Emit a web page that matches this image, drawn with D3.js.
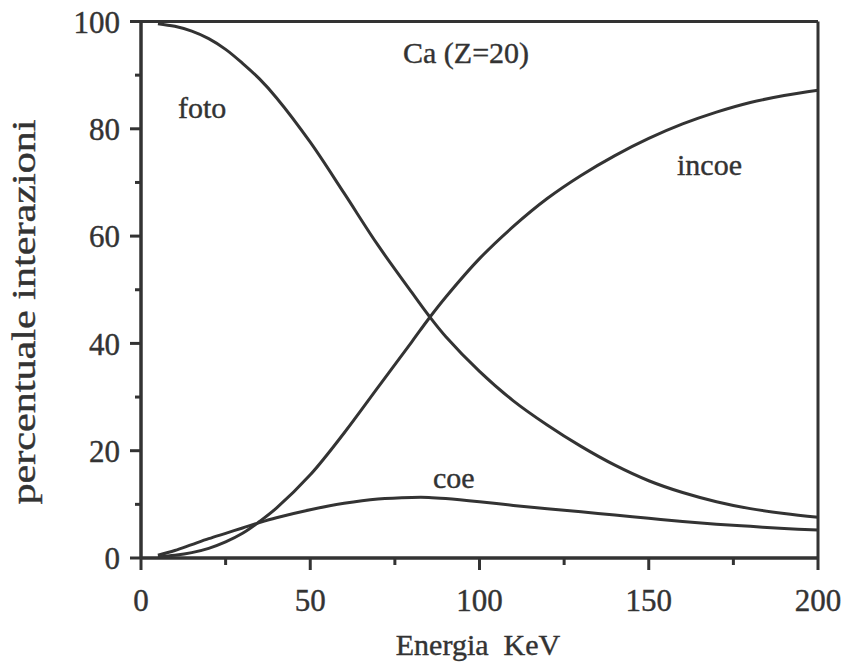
<!DOCTYPE html>
<html>
<head>
<meta charset="utf-8">
<script src="https://cdn.jsdelivr.net/npm/d3@7"></script>
<style>
  body { margin: 0; background: #fff; }
  svg { display: block; }
  text { font-family: "Liberation Serif", "Times New Roman", Times, serif; }
</style>
</head>
<body>
<svg id="chart" width="846" height="666"></svg>
<script>
// Energy grid (keV) and interaction percentages for Ca (Z=20)
const energy = [5, 10, 15, 20, 25, 30, 35, 40, 50, 60, 70, 80, 85, 90, 100, 110, 120, 130, 140, 150, 160, 170, 180, 190, 200];
const foto  = [99.6, 99.1, 98.2, 96.8, 94.8, 92.2, 89.3, 85.8, 77.5, 68, 58.3, 49.5, 45.2, 41.3, 34.8, 29.3, 24.8, 20.8, 17.3, 14.4, 12.2, 10.5, 9.2, 8.3, 7.6];
const incoe = [0.2, 0.5, 1.0, 1.8, 3.0, 4.6, 6.8, 9.3, 15.5, 23.3, 31.8, 40.3, 44.6, 48.6, 55.8, 61.8, 67, 71.3, 75, 78.2, 80.9, 83.1, 84.9, 86.2, 87.2];
const coe   = [0.5, 1.4, 2.5, 3.6, 4.6, 5.6, 6.6, 7.5, 9.0, 10.2, 11.0, 11.3, 11.3, 11.1, 10.5, 9.8, 9.2, 8.6, 8.0, 7.4, 6.8, 6.3, 5.9, 5.5, 5.2];

const xTicks = [0, 50, 100, 150, 200];
const yTicks = [0, 20, 40, 60, 80, 100];

const ink = '#333';
const svg = d3.select('#chart');

const x = d3.scaleLinear().domain([0, 200]).range([141, 818]);
const y = d3.scaleLinear().domain([0, 100]).range([558, 21.5]);

// frame: top and right edges
svg.append('line')
  .attr('x1', x(0)).attr('x2', x(200)).attr('y1', y(100)).attr('y2', y(100))
  .attr('stroke', ink).attr('stroke-width', 3);
svg.append('line')
  .attr('x1', x(200)).attr('x2', x(200)).attr('y1', y(100)).attr('y2', y(0))
  .attr('stroke', ink).attr('stroke-width', 3);

// x axis with minor ticks every 25
const xAxis = svg.append('g').attr('transform', `translate(0,${y(0)})`);
xAxis.append('line')
  .attr('x1', x(0)).attr('x2', x(200))
  .attr('stroke', ink).attr('stroke-width', 3.5);
xAxis.selectAll('line.tick')
  .data(d3.range(0, 201, 25))
  .join('line')
  .attr('class', 'tick')
  .attr('x1', d => x(d)).attr('x2', d => x(d))
  .attr('y1', 0).attr('y2', d => d % 50 === 0 ? 12 : 7)
  .attr('stroke', ink).attr('stroke-width', 3);
xAxis.selectAll('text')
  .data(xTicks)
  .join('text')
  .attr('x', d => x(d)).attr('y', 53)
  .attr('text-anchor', 'middle')
  .attr('font-size', 31)
  .attr('fill', ink).attr('stroke', ink).attr('stroke-width', 0.4)
  .text(d => d);

// y axis with minor ticks every 10
const yAxis = svg.append('g').attr('transform', `translate(${x(0)},0)`);
yAxis.append('line')
  .attr('y1', y(0)).attr('y2', y(100))
  .attr('stroke', ink).attr('stroke-width', 3.5);
yAxis.selectAll('line.tick')
  .data(d3.range(0, 101, 10))
  .join('line')
  .attr('class', 'tick')
  .attr('y1', d => y(d)).attr('y2', d => y(d))
  .attr('x1', 0).attr('x2', d => d % 20 === 0 ? -11 : -6)
  .attr('stroke', ink).attr('stroke-width', 3);
yAxis.selectAll('text')
  .data(yTicks)
  .join('text')
  .attr('x', -21).attr('y', d => y(d))
  .attr('dy', '0.36em')
  .attr('text-anchor', 'end')
  .attr('font-size', 31)
  .attr('fill', ink).attr('stroke', ink).attr('stroke-width', 0.4)
  .text(d => d);

// axis titles
svg.append('text')
  .attr('x', 478).attr('y', 655)
  .attr('text-anchor', 'middle')
  .attr('font-size', 30)
  .attr('fill', ink).attr('stroke', ink).attr('stroke-width', 0.4)
  .attr('xml:space', 'preserve')
  .text('Energia  KeV');

svg.append('text')
  .attr('transform', 'translate(35,312) rotate(-90)')
  .attr('text-anchor', 'middle')
  .attr('font-size', 33)
  .attr('textLength', 385)
  .attr('lengthAdjust', 'spacingAndGlyphs')
  .attr('fill', ink).attr('stroke', ink).attr('stroke-width', 0.4)
  .text('percentuale interazioni');

// curves
const line = d3.line()
  .x((d, i) => x(energy[i]))
  .y(d => y(d))
  .curve(d3.curveCatmullRom.alpha(0.5));

[foto, incoe, coe].forEach(series => {
  svg.append('path')
    .attr('d', line(series))
    .attr('fill', 'none')
    .attr('stroke', ink)
    .attr('stroke-width', 3)
    .attr('stroke-linejoin', 'round');
});

// in-plot labels
const labels = [
  { text: 'Ca (Z=20)', x: 403, y: 63 },
  { text: 'foto', x: 178, y: 118 },
  { text: 'incoe', x: 677, y: 175 },
  { text: 'coe', x: 433, y: 488 }
];
svg.selectAll('text.lbl')
  .data(labels)
  .join('text')
  .attr('class', 'lbl')
  .attr('x', d => d.x).attr('y', d => d.y)
  .attr('font-size', 30)
  .attr('fill', ink).attr('stroke', ink).attr('stroke-width', 0.4)
  .text(d => d.text);
</script>
</body>
</html>
